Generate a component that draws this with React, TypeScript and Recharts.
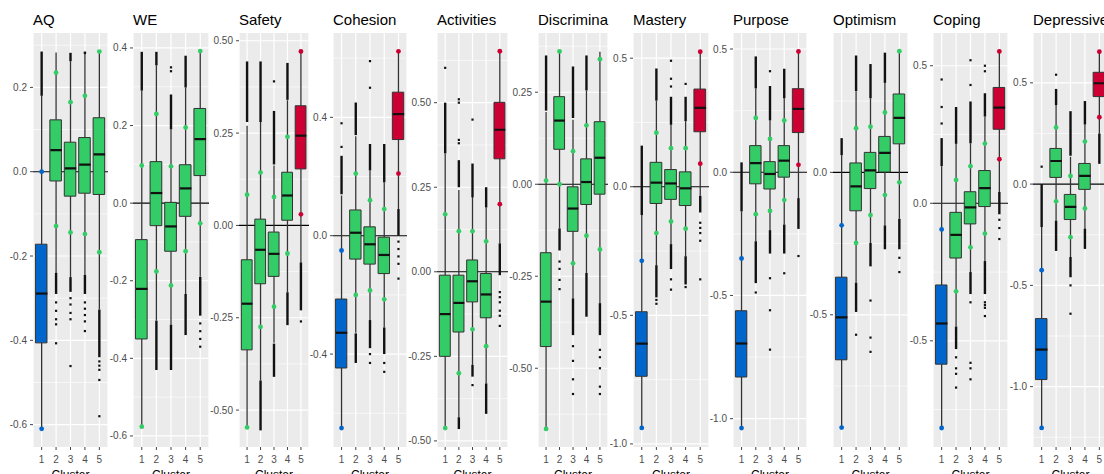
import React from "react";
import {
  ComposedChart,
  Bar,
  Cell,
  Scatter,
  ErrorBar,
  XAxis,
  YAxis,
  CartesianGrid,
  ReferenceLine,
} from "recharts";

type Stat = [number, number, number, number, number]; // lo whisker, q1, median, q3, hi whisker
type Pair = [number, number];

const clusters = ["1", "2", "3", "4", "5"];

// ---------- AQ ----------
const aqTicks = [-0.6, -0.4, -0.2, 0, 0.2];
const aqMinor = [-0.5, -0.3, -0.1, 0.1, 0.3];
const aqDomain: Pair = [-0.653, 0.329];
const aqGroups = ["L", "M", "M", "M", "M"];
const aqStats: Stat[] = [
  [-0.61, -0.406, -0.289, -0.172, 0.18],
  [-0.24, -0.022, 0.051, 0.123, 0.283],
  [-0.25, -0.058, 0.008, 0.07, 0.262],
  [-0.245, -0.051, 0.017, 0.081, 0.279],
  [-0.327, -0.054, 0.041, 0.128, 0.285],
];
const aqPoints: Pair[] = [[0.0, -0.61], [0.235, -0.129], [0.165, -0.144], [0.18, -0.148], [0.285, -0.191]];
const aqStreaks: Pair[][] = [
  [[0.18, 0.285]],
  [[-0.29, -0.24]],
  [[0.262, 0.282], [-0.285, -0.25]],
  [[0.279, 0.285], [-0.29, -0.245]],
  [[-0.44, -0.327]],
];
const aqDots: number[][] = [
  [],
  [-0.31, -0.33, -0.35, -0.362, -0.407],
  [-0.3, -0.315, -0.335, -0.35, -0.461],
  [-0.31, -0.325, -0.34, -0.355, -0.378],
  [-0.45, -0.46, -0.47, -0.494, -0.58],
];

// ---------- WE ----------
const weTicks = [-0.6, -0.4, -0.2, 0, 0.2, 0.4];
const weMinor = [-0.5, -0.3, -0.1, 0.1, 0.3];
const weDomain: Pair = [-0.6285, 0.4385];
const weGroups = ["M", "M", "M", "M", "M"];
const weStats: Stat[] = [
  [-0.576, -0.35, -0.221, -0.094, 0.29],
  [-0.303, -0.058, 0.026, 0.107, 0.355],
  [-0.313, -0.124, -0.06, 0.002, 0.19],
  [-0.234, -0.034, 0.038, 0.099, 0.298],
  [-0.19, 0.071, 0.165, 0.244, 0.392],
];
const wePoints: Pair[] = [[0.097, -0.576], [0.23, -0.176], [0.095, -0.212], [0.195, -0.124], [0.392, -0.052]];
const weStreaks: Pair[][] = [
  [[0.29, 0.39]],
  [[0.355, 0.39], [-0.43, -0.303]],
  [[0.19, 0.28], [-0.43, -0.313]],
  [[0.298, 0.38], [-0.34, -0.234]],
  [[-0.29, -0.19]],
];
const weDots: number[][] = [[], [], [0.34, 0.35], [], [-0.31, -0.33, -0.35, -0.37]];

// ---------- Safety ----------
const safTicks = [-0.5, -0.25, 0, 0.25, 0.5];
const safMinor = [-0.375, -0.125, 0.125, 0.375];
const safDomain: Pair = [-0.6, 0.521];
const safGroups = ["M", "M", "M", "M", "H"];
const safStats: Stat[] = [
  [-0.547, -0.337, -0.212, -0.093, 0.27],
  [-0.42, -0.158, -0.066, 0.017, 0.28],
  [-0.318, -0.138, -0.077, -0.018, 0.162],
  [-0.181, 0.014, 0.081, 0.144, 0.339],
  [-0.1, 0.153, 0.243, 0.324, 0.471],
];
const safPoints: Pair[] = [[0.083, -0.547], [0.143, -0.275], [0.077, -0.22], [0.24, -0.076], [0.471, 0.03]];
const safStreaks: Pair[][] = [
  [[0.28, 0.444]],
  [[0.28, 0.444], [-0.555, -0.42]],
  [[0.165, 0.31], [-0.41, -0.32]],
  [[0.34, 0.44], [-0.27, -0.181]],
  [[-0.23, -0.1]],
];
const safDots: number[][] = [[], [], [0.39], [], [-0.26]];

// ---------- Cohesion ----------
const cohTicks = [-0.4, 0, 0.4];
const cohMinor = [-0.6, -0.2, 0.2, 0.6];
const cohDomain: Pair = [-0.714, 0.685];
const cohGroups = ["L", "M", "M", "M", "H"];
const cohStats: Stat[] = [
  [-0.65, -0.447, -0.328, -0.214, 0.136],
  [-0.328, -0.079, 0.01, 0.087, 0.336],
  [-0.285, -0.096, -0.029, 0.03, 0.219],
  [-0.31, -0.128, -0.065, -0.005, 0.18],
  [0.09, 0.325, 0.411, 0.485, 0.623],
];
const cohPoints: Pair[] = [[-0.05, -0.65], [0.21, -0.2], [0.12, -0.185], [0.09, -0.215], [0.623, 0.21]];
const cohStreaks: Pair[][] = [
  [[0.14, 0.27]],
  [[0.34, 0.45], [-0.43, -0.33]],
  [[0.22, 0.31], [-0.38, -0.285]],
  [[0.18, 0.31], [-0.4, -0.31]],
  [[0.0, 0.09]],
];
const cohDots: number[][] = [
  [0.3, 0.38],
  [],
  [0.5, 0.59, -0.4, -0.43],
  [-0.43, -0.46],
  [-0.02, -0.045, -0.07, -0.095, -0.145],
];

// ---------- Activities ----------
const actTicks = [-0.5, -0.25, 0, 0.25, 0.5];
const actMinor = [-0.375, -0.125, 0.125, 0.375, 0.625];
const actDomain: Pair = [-0.518, 0.706];
const actGroups = ["M", "M", "M", "M", "H"];
const actStats: Stat[] = [
  [-0.462, -0.25, -0.125, -0.01, 0.35],
  [-0.43, -0.178, -0.092, -0.01, 0.242],
  [-0.275, -0.089, -0.028, 0.035, 0.221],
  [-0.33, -0.136, -0.067, -0.005, 0.19],
  [0.084, 0.334, 0.42, 0.501, 0.652],
];
const actPoints: Pair[] = [[0.17, -0.462], [0.12, -0.3], [0.12, -0.17], [0.09, -0.22], [0.652, 0.2]];
const actStreaks: Pair[][] = [
  [[0.35, 0.5]],
  [[0.25, 0.33], [-0.465, -0.43]],
  [[0.22, 0.32], [-0.31, -0.275]],
  [[0.19, 0.25], [-0.42, -0.33]],
  [[-0.01, 0.084]],
];
const actDots: number[][] = [
  [0.603],
  [0.38, 0.39, 0.5, 0.51],
  [0.45, -0.335],
  [],
  [-0.06, -0.075, -0.09, -0.115, -0.13, -0.16],
];

// ---------- Discrimination ----------
const disTicks = [-0.5, -0.25, 0, 0.25];
const disMinor = [-0.625, -0.375, -0.125, 0.125, 0.375];
const disDomain: Pair = [-0.714, 0.411];
const disGroups = ["M", "M", "M", "M", "M"];
const disStats: Stat[] = [
  [-0.665, -0.441, -0.319, -0.186, 0.196],
  [-0.12, 0.095, 0.173, 0.238, 0.361],
  [-0.31, -0.128, -0.066, -0.007, 0.175],
  [-0.241, -0.055, 0.006, 0.069, 0.255],
  [-0.323, -0.027, 0.072, 0.17, 0.36],
];
const disPoints: Pair[] = [[0.01, -0.665], [0.361, 0.0], [0.09, -0.215], [0.16, -0.14], [0.34, -0.177]];
const disStreaks: Pair[][] = [
  [[0.2, 0.35]],
  [[-0.18, -0.12]],
  [[0.18, 0.32], [-0.41, -0.31]],
  [[0.255, 0.35], [-0.36, -0.241]],
  [[-0.41, -0.323]],
];
const disDots: number[][] = [
  [],
  [-0.21, -0.23, -0.26, -0.285],
  [-0.44, -0.48, -0.53, -0.57],
  [],
  [-0.45, -0.47, -0.5, -0.55, -0.57],
];

// ---------- Mastery ----------
const masTicks = [-1, -0.5, 0, 0.5];
const masMinor = [-0.75, -0.25, 0.25];
const masDomain: Pair = [-1.012, 0.598];
const masGroups = ["L", "M", "M", "M", "H"];
const masStats: Stat[] = [
  [-0.938, -0.737, -0.61, -0.486, -0.11],
  [-0.305, -0.065, 0.016, 0.095, 0.335],
  [-0.223, -0.049, 0.013, 0.067, 0.241],
  [-0.27, -0.073, -0.006, 0.058, 0.255],
  [-0.035, 0.214, 0.307, 0.38, 0.525],
];
const masPoints: Pair[] = [[-0.288, -0.938], [0.21, -0.18], [0.15, -0.135], [0.15, -0.163], [0.525, 0.09]];
const masStreaks: Pair[][] = [
  [[-0.11, 0.16]],
  [[0.335, 0.46], [-0.43, -0.305]],
  [[0.241, 0.35], [-0.32, -0.223]],
  [[0.255, 0.35], [-0.38, -0.27]],
  [[-0.1, -0.035]],
];
const masDots: number[][] = [
  [],
  [-0.44, -0.455],
  [0.39, 0.42, 0.49, -0.36, -0.4],
  [0.4, -0.39],
  [-0.14, -0.16, -0.18, -0.21, -0.36],
];

// ---------- Purpose ----------
const purTicks = [-1, -0.5, 0, 0.5];
const purMinor = [-0.75, -0.25, 0.25];
const purDomain: Pair = [-1.115, 0.565];
const purGroups = ["L", "M", "M", "M", "H"];
const purStats: Stat[] = [
  [-1.038, -0.831, -0.695, -0.562, -0.159],
  [-0.28, -0.047, 0.037, 0.108, 0.34],
  [-0.235, -0.068, -0.007, 0.043, 0.21],
  [-0.212, -0.02, 0.047, 0.108, 0.3],
  [-0.105, 0.161, 0.257, 0.339, 0.49],
];
const purPoints: Pair[] = [[-0.35, -1.038], [0.22, -0.17], [0.135, -0.157], [0.21, -0.113], [0.49, 0.03]];
const purStreaks: Pair[][] = [
  [[-0.159, 0.04]],
  [[0.34, 0.47], [-0.45, -0.28]],
  [[0.21, 0.35], [-0.33, -0.235]],
  [[0.3, 0.42], [-0.33, -0.212]],
  [[-0.23, -0.105]],
];
const purDots: number[][] = [[], [-0.488], [0.41, -0.43, -0.56, -0.72], [-0.41], [-0.34]];

// ---------- Optimism ----------
const optTicks = [-0.5, 0];
const optMinor = [-0.75, -0.25, 0.25];
const optDomain: Pair = [-0.964, 0.489];
const optGroups = ["L", "M", "M", "M", "M"];
const optStats: Stat[] = [
  [-0.896, -0.658, -0.509, -0.368, 0.06],
  [-0.387, -0.135, -0.049, 0.033, 0.285],
  [-0.248, -0.057, 0.007, 0.07, 0.26],
  [-0.186, 0.001, 0.068, 0.126, 0.314],
  [-0.163, 0.1, 0.191, 0.275, 0.425],
];
const optPoints: Pair[] = [[-0.186, -0.896], [0.155, -0.248], [0.16, -0.15], [0.21, -0.08], [0.425, -0.035]];
const optStreaks: Pair[][] = [
  [[0.06, 0.12]],
  [[0.285, 0.41], [-0.49, -0.387]],
  [[0.26, 0.38], [-0.33, -0.248]],
  [[0.314, 0.42], [-0.27, -0.186]],
  [[-0.27, -0.163]],
];
const optDots: number[][] = [[], [-0.57], [-0.45, -0.58, -0.63], [], [-0.3, -0.35]];

// ---------- Coping ----------
const copTicks = [-0.5, 0, 0.5];
const copMinor = [-0.75, -0.25, 0.25];
const copDomain: Pair = [-0.886, 0.619];
const copGroups = ["L", "M", "M", "M", "H"];
const copStats: Stat[] = [
  [-0.817, -0.585, -0.437, -0.297, 0.135],
  [-0.448, -0.199, -0.115, -0.033, 0.216],
  [-0.25, -0.075, -0.015, 0.042, 0.218],
  [-0.21, -0.012, 0.055, 0.119, 0.315],
  [0.041, 0.269, 0.348, 0.421, 0.552],
];
const copPoints: Pair[] = [[-0.095, -0.817], [0.085, -0.32], [0.135, -0.16], [0.217, -0.11], [0.552, 0.16]];
const copStreaks: Pair[][] = [
  [[0.135, 0.237]],
  [[0.216, 0.35], [-0.53, -0.448]],
  [[0.218, 0.37], [-0.33, -0.25]],
  [[0.315, 0.4], [-0.33, -0.21]],
  [[-0.04, 0.041]],
];
const copDots: number[][] = [
  [0.29, 0.35, 0.45],
  [-0.56, -0.6, -0.62, -0.67],
  [0.43, 0.52, -0.36, -0.58, -0.6, -0.64],
  [0.48, 0.5, -0.36, -0.37, -0.38, -0.41],
  [-0.06, -0.09, -0.13],
];

// ---------- Depressive ----------
const depTicks = [-1, -0.5, 0, 0.5];
const depMinor = [-1.25, -0.75, -0.25, 0.25];
const depDomain: Pair = [-1.298, 0.746];
const depGroups = ["L", "M", "M", "M", "H"];
const depStats: Stat[] = [
  [-1.204, -0.965, -0.817, -0.664, -0.212],
  [-0.18, 0.033, 0.114, 0.176, 0.39],
  [-0.36, -0.175, -0.112, -0.051, 0.135],
  [-0.22, -0.026, 0.041, 0.102, 0.294],
  [0.25, 0.432, 0.498, 0.552, 0.654],
];
const depPoints: Pair[] = [[-0.425, -1.204], [0.28, -0.085], [0.04, -0.262], [0.21, -0.12], [0.654, 0.33]];
const depStreaks: Pair[][] = [
  [[-0.212, 0.0]],
  [[0.39, 0.47], [-0.33, -0.18]],
  [[0.14, 0.36], [-0.46, -0.36]],
  [[0.294, 0.41], [-0.32, -0.22]],
  [[0.1, 0.25]],
];
const depDots: number[][] = [[0.086], [0.54], [-0.5, -0.64], [], []];

// ---------- styling / layout ----------
const GROUP_COLORS: Record<string, string> = { L: "#0066CC", M: "#33CC66", H: "#CC0033" };
const FONT = "'Liberation Sans', Arial, Helvetica, sans-serif";
const AXIS_W = 30;
const PLOT_TOP = 33;
const CHART_H = 474;
const X_AXIS_H = 27;

type PanelDef = {
  title: string;
  left: number;
  plotW: number;
  ticks: number[];
  minor: number[];
  domain: Pair;
  dec: number;
  groups: string[];
  stats: Stat[];
  points: Pair[];
  streaks: Pair[][];
  dots: number[][];
};

const panels: PanelDef[] = [
  { title: "AQ", left: 33, plotW: 75, ticks: aqTicks, minor: aqMinor, domain: aqDomain, dec: 1, groups: aqGroups, stats: aqStats, points: aqPoints, streaks: aqStreaks, dots: aqDots },
  { title: "WE", left: 133, plotW: 76, ticks: weTicks, minor: weMinor, domain: weDomain, dec: 1, groups: weGroups, stats: weStats, points: wePoints, streaks: weStreaks, dots: weDots },
  { title: "Safety", left: 239, plotW: 70, ticks: safTicks, minor: safMinor, domain: safDomain, dec: 2, groups: safGroups, stats: safStats, points: safPoints, streaks: safStreaks, dots: safDots },
  { title: "Cohesion", left: 333, plotW: 74, ticks: cohTicks, minor: cohMinor, domain: cohDomain, dec: 1, groups: cohGroups, stats: cohStats, points: cohPoints, streaks: cohStreaks, dots: cohDots },
  { title: "Activities", left: 437, plotW: 71, ticks: actTicks, minor: actMinor, domain: actDomain, dec: 2, groups: actGroups, stats: actStats, points: actPoints, streaks: actStreaks, dots: actDots },
  { title: "Discrimina", left: 538, plotW: 70, ticks: disTicks, minor: disMinor, domain: disDomain, dec: 2, groups: disGroups, stats: disStats, points: disPoints, streaks: disStreaks, dots: disDots },
  { title: "Mastery", left: 633, plotW: 76, ticks: masTicks, minor: masMinor, domain: masDomain, dec: 1, groups: masGroups, stats: masStats, points: masPoints, streaks: masStreaks, dots: masDots },
  { title: "Purpose", left: 733, plotW: 74, ticks: purTicks, minor: purMinor, domain: purDomain, dec: 1, groups: purGroups, stats: purStats, points: purPoints, streaks: purStreaks, dots: purDots },
  { title: "Optimism", left: 833, plotW: 75, ticks: optTicks, minor: optMinor, domain: optDomain, dec: 1, groups: optGroups, stats: optStats, points: optPoints, streaks: optStreaks, dots: optDots },
  { title: "Coping", left: 933, plotW: 75, ticks: copTicks, minor: copMinor, domain: copDomain, dec: 1, groups: copGroups, stats: copStats, points: copPoints, streaks: copStreaks, dots: copDots },
  { title: "Depressive", left: 1033, plotW: 75, ticks: depTicks, minor: depMinor, domain: depDomain, dec: 1, groups: depGroups, stats: depStats, points: depPoints, streaks: depStreaks, dots: depDots },
];

const noShape = () => <g />;

const dotShape = (props: any) => {
  const { cx, cy } = props;
  if (cx == null || cy == null) return <g />;
  return <rect x={cx - 1.1} y={cy - 1.1} width={2.2} height={2.2} fill="#111111" />;
};

const pointShape = (props: any) => {
  const { cx, cy, payload } = props;
  if (cx == null || cy == null) return <g />;
  return <circle cx={cx} cy={cy} r={2.4} fill={GROUP_COLORS[payload.g]} />;
};

function Panel({ p }: { p: PanelDef }) {
  const u = p.plotW / 5.2;
  const pad = 0.1 * u;
  const bw = 0.8 * u;

  const rows = clusters.map((c, i) => ({ c, box: [p.stats[i][1], p.stats[i][3]] }));
  const whiskers: any[] = [];
  clusters.forEach((c, i) => {
    const [lo, q1, , q3, hi] = p.stats[i];
    whiskers.push({ c, y: lo, err: [0, q1 - lo] });
    whiskers.push({ c, y: q3, err: [0, hi - q3] });
  });
  const medians = clusters.map((c, i) => ({ c, y: p.stats[i][2] }));
  const streaks: any[] = [];
  clusters.forEach((c, i) => {
    p.streaks[i].forEach(([a, b]) => streaks.push({ c, y: a, err: [0, b - a] }));
  });
  const dots: any[] = [];
  clusters.forEach((c, i) => p.dots[i].forEach((v) => dots.push({ c, y: v })));
  const pts: any[] = [];
  clusters.forEach((c, i) => {
    pts.push({ c, y: p.points[i][0], g: p.groups[i] });
    pts.push({ c, y: p.points[i][1], g: p.groups[i] });
  });

  const medianShape = (props: any) => {
    const { cx, cy } = props;
    if (cx == null || cy == null) return <g />;
    return <line x1={cx - bw / 2} x2={cx + bw / 2} y1={cy} y2={cy} stroke="#111111" strokeWidth={2.2} />;
  };

  const tickStyle = { fontSize: 10, fill: "#4D4D4D", fontFamily: FONT };

  return (
    <div style={{ position: "absolute", left: p.left - AXIS_W, top: 0 }}>
      <ComposedChart
        width={AXIS_W + p.plotW}
        height={CHART_H}
        data={rows}
        margin={{ top: PLOT_TOP, right: 0, bottom: 0, left: 0 }}
      >
        <CartesianGrid
          fill="#EBEBEB"
          stroke="#FFFFFF"
          strokeWidth={0.6}
          vertical={false}
          horizontalValues={p.minor}
        />
        <CartesianGrid stroke="#FFFFFF" strokeWidth={1.2} horizontalValues={p.ticks} />
        <XAxis
          dataKey="c"
          type="category"
          allowDuplicatedCategory={false}
          padding={{ left: pad, right: pad }}
          height={X_AXIS_H}
          tickSize={3}
          tickMargin={6}
          axisLine={false}
          tickLine={{ stroke: "#444444" }}
          tick={tickStyle}
          interval={0}
        />
        <YAxis
          type="number"
          domain={p.domain}
          allowDataOverflow
          ticks={p.ticks}
          width={AXIS_W}
          tickSize={3}
          tickMargin={3}
          axisLine={false}
          tickLine={{ stroke: "#444444" }}
          tick={tickStyle}
          interval={0}
          tickFormatter={(v: number) => v.toFixed(p.dec)}
        />
        <ReferenceLine y={0} stroke="#000000" strokeWidth={1.1} zIndex={-40} />
        <Scatter data={whiskers} dataKey="y" shape={noShape} isAnimationActive={false}>
          <ErrorBar dataKey="err" direction="y" width={0} stroke="#333333" strokeWidth={1.3} />
        </Scatter>
        <Bar dataKey="box" barSize={bw} stroke="#333333" strokeWidth={1} isAnimationActive={false}>
          {rows.map((r, i) => (
            <Cell key={r.c} fill={GROUP_COLORS[p.groups[i]]} />
          ))}
        </Bar>
        <Scatter data={medians} dataKey="y" shape={medianShape} isAnimationActive={false} />
        <Scatter data={streaks} dataKey="y" shape={noShape} isAnimationActive={false}>
          <ErrorBar dataKey="err" direction="y" width={0} stroke="#111111" strokeWidth={2.4} />
        </Scatter>
        <Scatter data={dots} dataKey="y" shape={dotShape} isAnimationActive={false} />
        <Scatter data={pts} dataKey="y" shape={pointShape} isAnimationActive={false} />
      </ComposedChart>
    </div>
  );
}

export default function App() {
  return (
    <div
      style={{
        position: "absolute",
        left: 0,
        top: 0,
        width: 1104,
        height: 474,
        overflow: "hidden",
        background: "#FFFFFF",
        fontFamily: FONT,
      }}
    >
      {panels.map((p) => (
        <Panel key={p.title} p={p} />
      ))}
      <svg
        width={1104}
        height={474}
        style={{ position: "absolute", left: 0, top: 0, pointerEvents: "none" }}
      >
        {panels.map((p) => (
          <g key={p.title}>
            <text x={p.left} y={25} fontSize={15} fill="#000000" fontFamily={FONT}>
              {p.title}
            </text>
            <text
              x={p.left + p.plotW / 2}
              y={478.5}
              fontSize={12}
              fill="#000000"
              textAnchor="middle"
              fontFamily={FONT}
            >
              Cluster
            </text>
          </g>
        ))}
      </svg>
    </div>
  );
}
